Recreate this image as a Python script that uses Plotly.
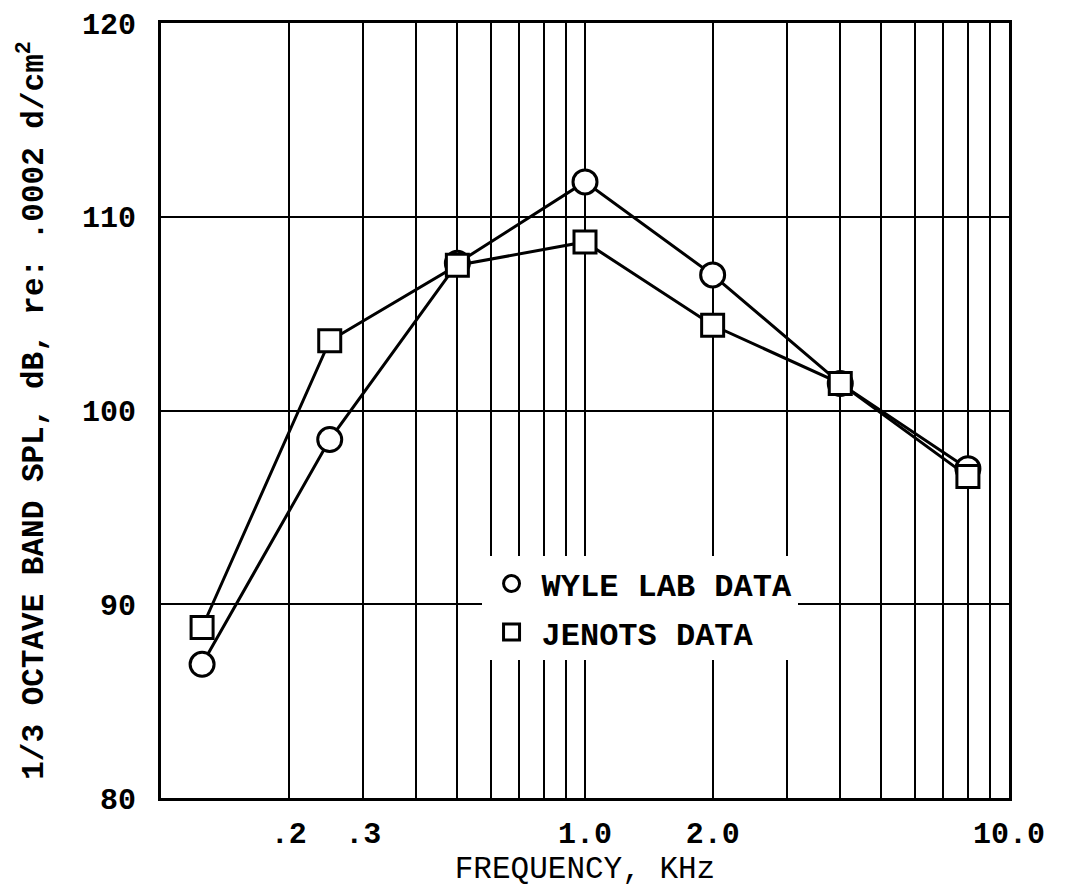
import plotly.graph_objects as go

# ---- data ----
freq_khz = [0.125, 0.25, 0.5, 1.0, 2.0, 4.0, 8.0]
wyle_db = [86.9, 98.5, 107.6, 111.8, 107.0, 101.4, 97.0]
jenots_db = [88.8, 103.6, 107.5, 108.7, 104.4, 101.4, 96.6]

x_grid_vals = [0.1, 0.2, 0.3, 0.4, 0.5, 0.6, 0.7, 0.8, 0.9,
               1, 2, 3, 4, 5, 6, 7, 8, 9, 10]
x_labels = {0.2: ".2", 0.3: ".3", 1: "1.0", 2: "2.0", 10: "10.0"}
y_ticks = [80, 90, 100, 110, 120]

series_names = ["WYLE LAB DATA", "JENOTS DATA"]
FONT = "Liberation Mono"

fig = go.Figure()

marker_common = dict(color="white", line=dict(color="black", width=3))

fig.add_trace(go.Scatter(
    x=freq_khz, y=wyle_db, mode="lines+markers", showlegend=False,
    line=dict(color="black", width=3),
    marker=dict(symbol="circle", size=24, **marker_common),
))
fig.add_trace(go.Scatter(
    x=freq_khz, y=jenots_db, mode="lines+markers", showlegend=False,
    line=dict(color="black", width=3),
    marker=dict(symbol="square", size=22, **marker_common),
))

# legend-only entries (marker symbols without line)
fig.add_trace(go.Scatter(
    x=[None], y=[None], mode="markers", name=series_names[0], legendgroup="a",
    marker=dict(symbol="circle", size=24, **marker_common),
))
fig.add_trace(go.Scatter(
    x=[None], y=[None], mode="markers", name=series_names[1], legendgroup="b",
    marker=dict(symbol="square", size=22, **marker_common),
))

fig.update_layout(
    width=1058, height=888,
    margin=dict(l=153, r=57, t=15, b=98, autoexpand=False),
    paper_bgcolor="white", plot_bgcolor="white",
    font=dict(family=FONT, color="black", size=30),
    legend=dict(
        x=0.378, y=0.312, xanchor="left", yanchor="top",
        bgcolor="white", borderwidth=0,
        font=dict(family=FONT, size=32, weight="bold"),
        tracegroupgap=4, traceorder="grouped",
        itemwidth=50,
    ),
)

fig.update_xaxes(
    type="log", range=[-1, 1], automargin=False,
    tickmode="array", tickvals=x_grid_vals,
    ticktext=[x_labels.get(v, "") for v in x_grid_vals],
    showgrid=True, gridcolor="black", gridwidth=2,
    ticks="", ticklabelstandoff=6,
    tickfont=dict(family=FONT, size=30, weight="bold"),
    showline=True, linecolor="black", linewidth=3, mirror=True,
    zeroline=False,
    title=dict(text="FREQUENCY, KHz", font=dict(family=FONT, size=31), standoff=2),
)
fig.update_yaxes(
    range=[80, 120], automargin=False,
    tickmode="array", tickvals=y_ticks,
    showgrid=True, gridcolor="black", gridwidth=2,
    ticks="", ticklabelstandoff=16,
    tickfont=dict(family=FONT, size=30, weight="bold"),
    showline=True, linecolor="black", linewidth=3, mirror=True,
    zeroline=False,
    title=dict(text="1/3 OCTAVE BAND SPL, dB, re: .0002 d/cm<sup>2</sup>",
               font=dict(family=FONT, size=31, weight="bold"), standoff=30),
)

fig.write_html("out.html")
